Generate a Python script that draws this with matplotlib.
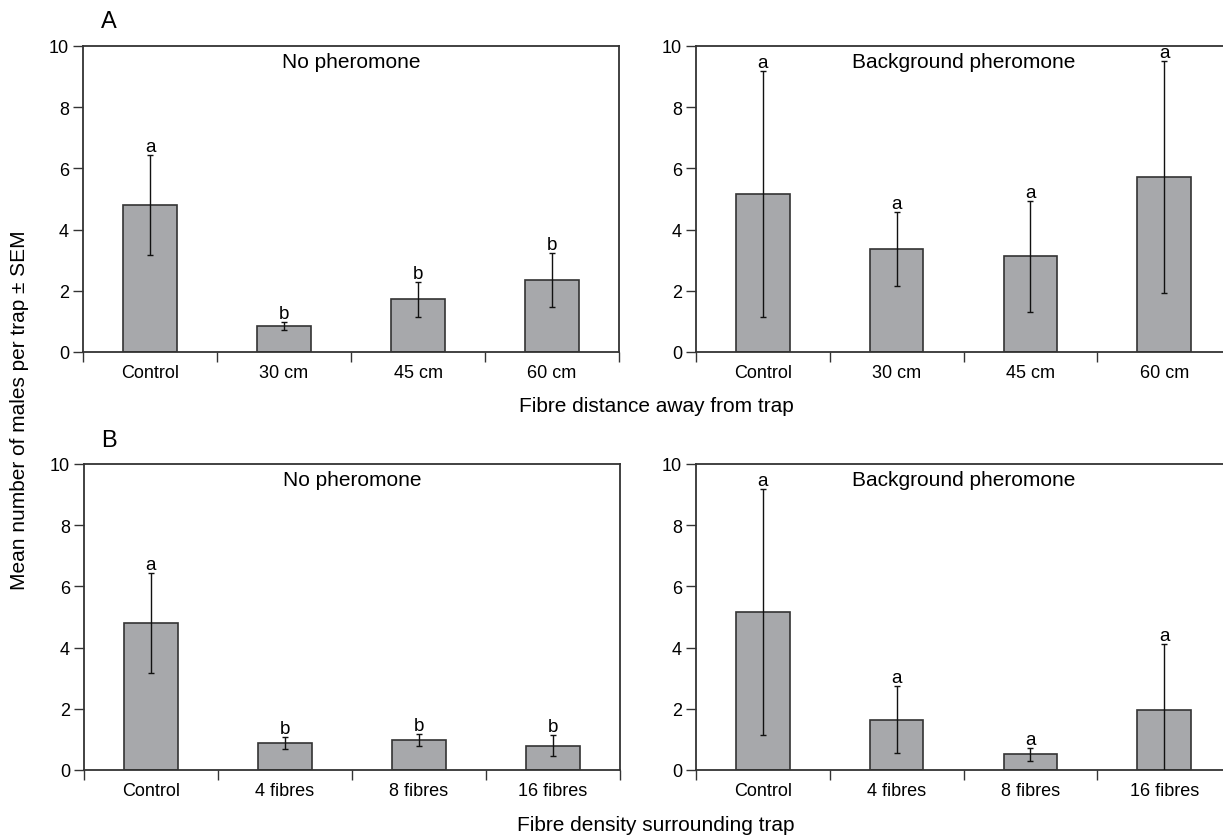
import numpy as np
import matplotlib
matplotlib.use('Agg')
import matplotlib.pyplot as plt

plt.rcParams['font.family'] = ['Liberation Sans', 'DejaVu Sans']

# Datos (media ± SEM)
dist_labels = ['Control', '30 cm', '45 cm', '60 cm']
dens_labels = ['Control', '4 fibres', '8 fibres', '16 fibres']

dist_nophero_mean = [4.80, 0.84, 1.73, 2.35]
dist_nophero_sem = [1.63, 0.13, 0.57, 0.89]
dist_nophero_let = ['a', 'b', 'b', 'b']

dist_bg_mean = [5.17, 3.37, 3.13, 5.73]
dist_bg_sem = [4.02, 1.21, 1.81, 3.79]
dist_bg_let = ['a', 'a', 'a', 'a']

dens_nophero_mean = [4.80, 0.89, 0.97, 0.80]
dens_nophero_sem = [1.63, 0.20, 0.20, 0.33]
dens_nophero_let = ['a', 'b', 'b', 'b']

dens_bg_mean = [5.17, 1.64, 0.51, 1.97]
dens_bg_sem = [4.02, 1.09, 0.21, 2.16]
dens_bg_let = ['a', 'a', 'a', 'a']

W, H = 1223, 837
fig = plt.figure(figsize=(W / 100, H / 100), dpi=100)


def px_axes(x0, y_top, w, h):
    return fig.add_axes([x0 / W, 1 - (y_top + h) / H, w / W, h / H])


def panel(ax, labels, means, sems, letters, title):
    x = np.arange(len(labels))
    ax.bar(x, means, width=0.4, color='#a7a8ab', edgecolor='#333333',
           linewidth=1.2, zorder=2)
    ax.errorbar(x, means, yerr=sems, fmt='none', ecolor='#111111',
                elinewidth=1.0, capsize=2.5, capthick=1.0, zorder=3)
    for xi, m, s, let in zip(x, means, sems, letters):
        ax.annotate(let, (xi, m + s), xytext=(0, 0), textcoords='offset points',
                    ha='center', va='bottom', fontsize=13.5)
    ax.set_xlim(-0.5, len(labels) - 0.5)
    ax.set_ylim(0, 10)
    ax.set_yticks([0, 2, 4, 6, 8, 10])
    ax.set_xticks(np.arange(len(labels) + 1) - 0.5)
    ax.set_xticklabels([])
    ax.set_xticks(x, minor=True)
    ax.set_xticklabels(labels, minor=True, fontsize=13)
    ax.tick_params(axis='x', which='minor', length=0, pad=9)
    ax.tick_params(axis='x', which='major', length=7, width=1.0,
                   color='#333333', direction='out')
    ax.tick_params(axis='y', length=7, width=1.0, color='#333333',
                   labelsize=13, pad=3)
    for sp in ax.spines.values():
        sp.set_color('#333333')
        sp.set_linewidth(1.3)
    ax.text(0.5, 0.95, title, transform=ax.transAxes, ha='center',
            va='center', fontsize=15)


ax1 = px_axes(83, 47, 536, 306)
ax2 = px_axes(696, 47, 535, 306)
ax3 = px_axes(84, 465, 536, 306)
ax4 = px_axes(696, 465, 535, 306)

panel(ax1, dist_labels, dist_nophero_mean, dist_nophero_sem, dist_nophero_let, 'No pheromone')
panel(ax2, dist_labels, dist_bg_mean, dist_bg_sem, dist_bg_let, 'Background pheromone')
panel(ax3, dens_labels, dens_nophero_mean, dens_nophero_sem, dens_nophero_let, 'No pheromone')
panel(ax4, dens_labels, dens_bg_mean, dens_bg_sem, dens_bg_let, 'Background pheromone')

fig.text(109 / W, 1 - 22 / H, 'A', fontsize=17, ha='center', va='center')
fig.text(109 / W, 1 - 441 / H, 'B', fontsize=17, ha='center', va='center')
fig.text(656 / W, 1 - 407 / H, 'Fibre distance away from trap', fontsize=15,
         ha='center', va='center')
fig.text(656 / W, 1 - 826 / H, 'Fibre density surrounding trap', fontsize=15,
         ha='center', va='center')
fig.text(20 / W, 1 - 410 / H, 'Mean number of males per trap ± SEM', fontsize=15,
         ha='center', va='center', rotation=90)

plt.savefig('out.png', dpi=100)
